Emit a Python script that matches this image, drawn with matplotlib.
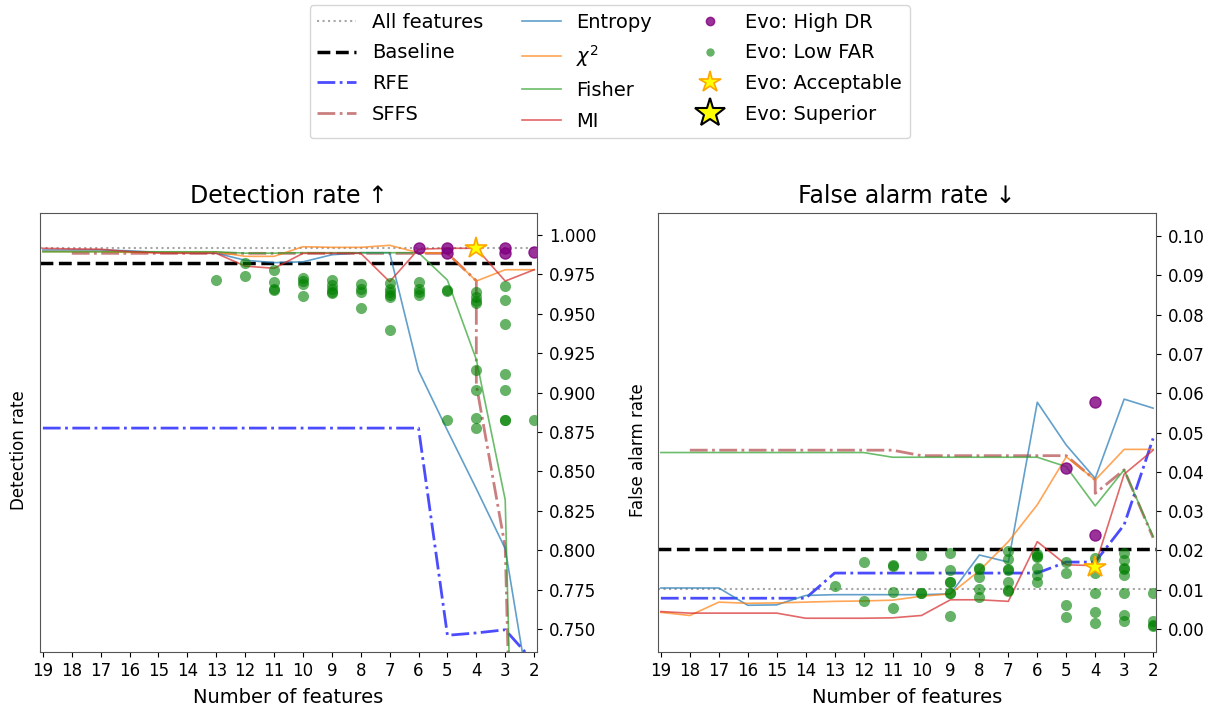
import numpy as np
import matplotlib
matplotlib.use("Agg")
import matplotlib.pyplot as plt

# ---------------- data ----------------
n_feat = [19, 18, 17, 16, 15, 14, 13, 12, 11, 10, 9, 8, 7, 6, 5, 4, 3, 2]
sffs_n = [18, 17, 16, 15, 14, 13, 12, 11, 10, 9, 8, 7, 6, 5, 4, 4, 3, 2]

all_dr = 0.9921
all_far = 0.0101
base_dr = 0.9824
base_far = 0.0204

rfe_dr = [0.8775, 0.8775, 0.8775, 0.8775, 0.8775, 0.8775, 0.8775, 0.8775, 0.8775,
          0.8775, 0.8775, 0.8775, 0.8775, 0.8775, 0.746, 0.7475, 0.7495, 0.729]
sffs_dr = [0.9884, 0.9884, 0.9884, 0.9884, 0.9884, 0.9884, 0.9884, 0.9884, 0.9884,
           0.9884, 0.9884, 0.9884, 0.9884, 0.9884, 0.971, 0.905, 0.802, 0.1]
entropy_dr = [0.9905, 0.9905, 0.9905, 0.990, 0.989, 0.9888, 0.9885, 0.984, 0.9825,
              0.983, 0.9875, 0.9888, 0.9888, 0.914, 0.876, 0.839, 0.801, 0.69]
chi2_dr = [0.9895, 0.9895, 0.9895, 0.989, 0.989, 0.989, 0.9893, 0.9865, 0.9865,
           0.9926, 0.9922, 0.9922, 0.9935, 0.9888, 0.9884, 0.9708, 0.978, 0.978]
fisher_dr = [0.9894, 0.9894, 0.9894, 0.9894, 0.9894, 0.9894, 0.9894, 0.9885, 0.9885,
             0.9888, 0.9888, 0.9888, 0.9888, 0.9888, 0.9714, 0.921, 0.832, 0.1]
mi_dr = [0.9916, 0.9912, 0.991, 0.9895, 0.9886, 0.9884, 0.9884, 0.9803, 0.9789,
         0.9884, 0.9884, 0.9884, 0.9704, 0.991, 0.9916, 0.9916, 0.9708, 0.978]

rfe_far = [0.0078, 0.0078, 0.0078, 0.0078, 0.0078, 0.0078, 0.0142, 0.0142, 0.0142,
           0.0142, 0.0142, 0.0142, 0.0142, 0.0142, 0.0170, 0.0170, 0.0265, 0.0485]
sffs_far = [0.0455, 0.0455, 0.0455, 0.0455, 0.0455, 0.0455, 0.0455, 0.0455, 0.0441,
            0.0441, 0.0441, 0.0441, 0.0441, 0.0441, 0.0379, 0.0345, 0.0405, 0.0232]
entropy_far = [0.0104, 0.0104, 0.0104, 0.0060, 0.0061, 0.0085, 0.0087, 0.0087, 0.0087,
               0.0087, 0.0089, 0.0188, 0.0170, 0.0577, 0.0468, 0.0383, 0.0585, 0.0562]
chi2_far = [0.0042, 0.0034, 0.0068, 0.0065, 0.0066, 0.0068, 0.0070, 0.0071, 0.0073,
            0.0083, 0.0089, 0.0148, 0.0222, 0.0316, 0.0438, 0.0379, 0.0457, 0.0457]
fisher_far = [0.0449, 0.0449, 0.0449, 0.0449, 0.0449, 0.0449, 0.0449, 0.0449, 0.0437,
              0.0437, 0.0437, 0.0437, 0.0437, 0.0437, 0.0413, 0.0313, 0.0405, 0.0235]
mi_far = [0.0044, 0.0040, 0.0040, 0.0040, 0.0040, 0.0027, 0.0027, 0.0027, 0.0028,
          0.0034, 0.0074, 0.0074, 0.0070, 0.0222, 0.0163, 0.0161, 0.0394, 0.0455]

# Evolutionary solutions
highdr_dr_n = [6, 5, 5, 3, 3, 2]
highdr_dr = [0.9918, 0.9916, 0.9889, 0.9916, 0.9889, 0.9894]
highdr_far_n = [5, 4, 4]
highdr_far = [0.0409, 0.0578, 0.0239]

lowfar_dr_n = [13, 12, 12, 11, 11, 11, 11, 10, 10, 10, 10, 9, 9, 9, 9, 9,
               8, 8, 8, 8, 7, 7, 7, 7, 7, 7, 6, 6, 6, 6, 5, 5, 5,
               4, 4, 4, 4, 4, 4, 4, 4, 3, 3, 3, 3, 3, 3, 3, 2]
lowfar_dr = [0.9714, 0.982, 0.974, 0.978, 0.9705, 0.9655, 0.965, 0.9725, 0.971, 0.969, 0.9613,
             0.9714, 0.968, 0.966, 0.964, 0.963, 0.969, 0.9655, 0.964, 0.954,
             0.9693, 0.966, 0.964, 0.962, 0.961, 0.940, 0.9704, 0.966, 0.964, 0.962,
             0.965, 0.9645, 0.8826, 0.964, 0.961, 0.958, 0.957, 0.9143, 0.9017, 0.884, 0.8777,
             0.9678, 0.9588, 0.9435, 0.9118, 0.9017, 0.8826, 0.8826, 0.8826]
lowfar_far_n = [13, 12, 12, 11, 11, 11, 11, 10, 10, 10, 9, 9, 9, 9, 9, 9, 9,
                8, 8, 8, 8, 8, 7, 7, 7, 7, 7, 7, 7, 6, 6, 6, 6, 6, 6,
                5, 5, 5, 5, 4, 4, 4, 4, 4, 3, 3, 3, 3, 3, 3, 3, 3, 2, 2, 2, 2]
lowfar_far = [0.0109, 0.0171, 0.0070, 0.0162, 0.0160, 0.0095, 0.0054, 0.0187, 0.0091, 0.0090,
              0.0193, 0.0151, 0.0120, 0.0118, 0.0091, 0.0090, 0.0033,
              0.0154, 0.0152, 0.0131, 0.0102, 0.0081,
              0.0197, 0.0177, 0.0152, 0.0150, 0.0120, 0.0098, 0.0096,
              0.0191, 0.0185, 0.0184, 0.0154, 0.0137, 0.0120,
              0.0169, 0.0142, 0.0060, 0.0029, 0.0180, 0.0142, 0.0091, 0.0044, 0.0014,
              0.0193, 0.0176, 0.0155, 0.0153, 0.0137, 0.0091, 0.0036, 0.0019,
              0.0091, 0.0021, 0.0009, 0.0007]

accept_n = [4]
accept_dr = [0.9916]
accept_far = [0.0157]
superior_n = []
superior_dr = []
superior_far = []

x_ticks = [19, 18, 17, 16, 15, 14, 13, 12, 11, 10, 9, 8, 7, 6, 5, 4, 3, 2]

# ---------------- figure ----------------
fig = plt.figure(figsize=(12.22, 7.1), dpi=100)
ax1 = fig.add_axes([40 / 1222, 1 - 652 / 710, 497 / 1222, 439 / 710])
ax2 = fig.add_axes([658 / 1222, 1 - 652 / 710, 498 / 1222, 439 / 710])


def draw(ax, allv, basev, rfe, sffs, ent, chi, fis, mi, hd_n, hd, lf_n, lf, acc, sup):
    ax.axhline(allv, color='grey', ls=':', lw=1.5, alpha=0.7, label='All features')
    ax.axhline(basev, color='k', ls='--', lw=2.5, label='Baseline')
    ax.plot(n_feat, rfe, color='b', ls='-.', lw=2, alpha=0.7, label='RFE')
    ax.plot(sffs_n, sffs, color='brown', ls='-.', lw=2, alpha=0.6, label='SFFS')
    ax.plot(n_feat, ent, color='tab:blue', lw=1.2, alpha=0.7, label='Entropy')
    ax.plot(n_feat, chi, color='tab:orange', lw=1.2, alpha=0.7, label=r'$\chi^2$')
    ax.plot(n_feat, fis, color='tab:green', lw=1.2, alpha=0.7, label='Fisher')
    ax.plot(n_feat, mi, color='tab:red', lw=1.2, alpha=0.7, label='MI')
    ax.plot(hd_n, hd, 'o', color='purple', ms=8, alpha=0.8, ls='none', label='Evo: High DR')
    ax.plot(lf_n, lf, 'o', color='green', ms=8, alpha=0.6, ls='none', mew=0, label='Evo: Low FAR')
    ax.plot(accept_n, acc, '*', color='yellow', mec='orange', ms=16, mew=1.2, ls='none',
            label='Evo: Acceptable')
    ax.plot(superior_n, sup, '*', color='yellow', mec='k', ms=22, mew=1.5, ls='none',
            label='Evo: Superior')
    ax.set_xlim(19.1, 1.9)
    ax.set_xticks(x_ticks)
    ax.set_xlabel('Number of features', fontsize=14, labelpad=6)
    ax.yaxis.tick_right()
    ax.yaxis.set_label_position('left')
    ax.tick_params(axis='y', labelsize=12, direction='out', pad=5)
    ax.tick_params(axis='x', labelsize=12, direction='out')
    for s in ax.spines.values():
        s.set_color('#555555')


draw(ax1, all_dr, base_dr, rfe_dr, sffs_dr, entropy_dr, chi2_dr, fisher_dr, mi_dr,
     highdr_dr_n, highdr_dr, lowfar_dr_n, lowfar_dr, accept_dr, superior_dr)
draw(ax2, all_far, base_far, rfe_far, sffs_far, entropy_far, chi2_far, fisher_far, mi_far,
     highdr_far_n, highdr_far, lowfar_far_n, lowfar_far, accept_far, superior_far)

ax1.set_ylim(0.7354, 1.014)
ax1.set_yticks([0.750, 0.775, 0.800, 0.825, 0.850, 0.875, 0.900, 0.925, 0.950, 0.975, 1.000])
ax1.set_ylabel('Detection rate', fontsize=12)
ax1.yaxis.set_label_coords(-0.024, 0.46)
ax1.set_title('Detection rate \u2191', fontsize=17, pad=7)

ax2.set_ylim(-0.0059, 0.1059)
ax2.set_yticks([0.00, 0.01, 0.02, 0.03, 0.04, 0.05, 0.06, 0.07, 0.08, 0.09, 0.10])
ax2.set_ylabel('False alarm rate', fontsize=12)
ax2.yaxis.set_label_coords(-0.022, 0.46)
ax2.set_title('False alarm rate \u2193', fontsize=17, pad=7)

handles, labels = ax1.get_legend_handles_labels()
leg = fig.legend(handles, labels, loc='upper center', bbox_to_anchor=(0.499, 0.993),
                 borderaxespad=0, ncol=3, fontsize=14, labelspacing=0.6)
for h, l in zip(leg.legend_handles, labels):
    if l in ('Evo: High DR', 'Evo: Low FAR'):
        h.set_markersize(6)

fig.savefig('out.png', dpi=100)
